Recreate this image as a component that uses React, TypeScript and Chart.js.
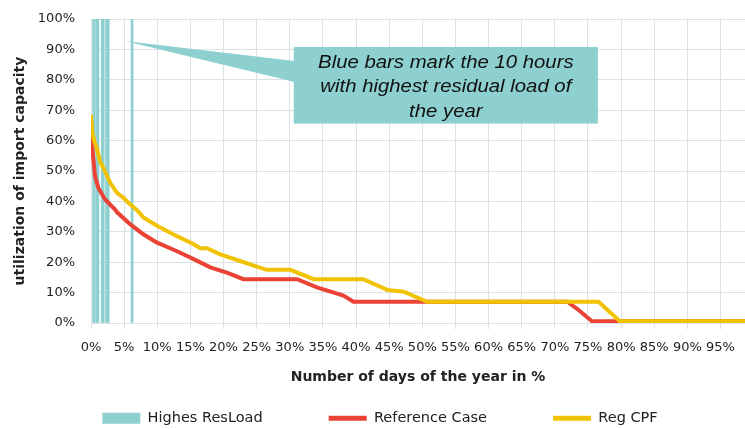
import React, { useEffect, useRef } from 'react';
import { Chart, registerables } from 'chart.js';

Chart.register(...registerables);

// ---- data ----
const seriesNames = ['Highes ResLoad', 'Reference Case', 'Reg CPF'];
const xAxisTitle = 'Number of days of the year in %';
const yAxisTitle = 'utilization of import capacity';
const calloutLines = ['Blue bars mark the 10 hours', 'with highest residual load of', 'the year'];

const xMin = 0;
const xMax = 98.7;
const xStep = 5;
const yMin = 0;
const yMax = 100;
const yStep = 10;

// hours with highest residual load (position in % of year)
const resLoadHours = [0.4, 0.5, 0.9, 1.05, 1.7, 1.85, 2.35, 2.5, 2.6, 6.2];
const resLoadLevel = [100, 100, 100, 100, 100, 100, 100, 100, 100, 100];

const refCaseX = [0, 0.2, 0.6, 1.1, 2.1, 3.6, 3.9, 5.9, 7.9, 9.9, 12.9, 15.5, 18.0, 20.5, 23.0, 31.1, 34.1, 38.1, 39.6, 71.9, 73.4, 75.6, 99];
const refCaseY = [63, 57.6, 48.3, 44.5, 40.7, 37.4, 36.5, 32.5, 29.2, 26.5, 23.7, 21, 18.3, 16.6, 14.4, 14.4, 11.7, 9, 7, 7, 4.6, 0.6, 0.6];

const regCpfX = [0, 0.2, 0.6, 0.86, 1.36, 2.1, 2.9, 3.9, 4.6, 4.9, 5.6, 7.1, 7.9, 9.9, 12.4, 15.5, 16.5, 17.5, 19.5, 22.5, 24, 26.5, 30.1, 33.6, 41.1, 44.7, 47.2, 50.7, 76.6, 79.8, 99];
const regCpfY = [68.5, 62.5, 59, 57.6, 53.2, 49.9, 46.1, 42.9, 41.7, 41.2, 39.6, 36.8, 34.7, 32.1, 29.2, 25.9, 24.6, 24.6, 22.6, 20.4, 19.3, 17.5, 17.5, 14.4, 14.4, 10.9, 10.3, 7.0, 7.0, 0.6, 0.6];

// callout annotation (data units)
const calloutTip = { x: 5.1, y: 92.8 };
const calloutBox = { left: 30.6, right: 76.5, top: 90.8, bottom: 65.6 };
const calloutWedge = { top: 86.2, bottom: 79.3 };

// ---- styles ----
const TEAL = '#8ED0D0';
const RED = '#EA4335';
const YELLOW = '#F0C200';
const GRID = '#dce1e6';
const TEXT = '#222222';
const FONT = 'DejaVu Sans';

const calloutPlugin = {
  id: 'callout',
  afterDatasetsDraw(chart: any) {
    const { ctx } = chart;
    const xs = chart.scales.x;
    const ys = chart.scales.y;
    const tx = xs.getPixelForValue(calloutTip.x);
    const ty = ys.getPixelForValue(calloutTip.y);
    const bl = xs.getPixelForValue(calloutBox.left);
    const br = xs.getPixelForValue(calloutBox.right);
    const bt = ys.getPixelForValue(calloutBox.top);
    const bb = ys.getPixelForValue(calloutBox.bottom);
    const w1 = ys.getPixelForValue(calloutWedge.top);
    const w2 = ys.getPixelForValue(calloutWedge.bottom);
    ctx.save();
    ctx.fillStyle = TEAL;
    ctx.beginPath();
    ctx.moveTo(tx, ty);
    ctx.lineTo(bl + 1, w1);
    ctx.lineTo(bl + 1, w2);
    ctx.closePath();
    ctx.fill();
    ctx.fillRect(bl, bt, br - bl, bb - bt);
    ctx.fillStyle = '#111111';
    ctx.font = 'italic 18px "Liberation Sans", Arial, sans-serif';
    ctx.textAlign = 'center';
    ctx.textBaseline = 'alphabetic';
    const cx = (bl + br) / 2;
    calloutLines.forEach((t, i) => {
      ctx.save();
      ctx.translate(cx, bt + 20.7 + i * 24.8);
      ctx.scale(1.13, 1);
      ctx.fillText(t, 0, 0);
      ctx.restore();
    });
    ctx.restore();
  },
};

export default function App() {
  const ref = useRef<HTMLCanvasElement>(null);

  useEffect(() => {
    const barData = resLoadHours.map((h, i) => ({ x: h, y: resLoadLevel[i] }));
    const refData = refCaseX.map((x, i) => ({ x, y: refCaseY[i] }));
    const cpfData = regCpfX.map((x, i) => ({ x, y: regCpfY[i] }));

    const chart = new Chart(ref.current as HTMLCanvasElement, {
      type: 'line',
      data: {
        datasets: [
          {
            type: 'bar',
            label: seriesNames[0],
            data: barData,
            backgroundColor: TEAL,
            borderWidth: 0,
            barThickness: 2,
            order: 3,
          } as any,
          {
            type: 'line',
            label: seriesNames[1],
            data: refData,
            borderColor: RED,
            backgroundColor: RED,
            borderWidth: 4,
            pointRadius: 0,
            tension: 0,
            fill: false,
            order: 2,
          },
          {
            type: 'line',
            label: seriesNames[2],
            data: cpfData,
            borderColor: YELLOW,
            backgroundColor: YELLOW,
            borderWidth: 4,
            pointRadius: 0,
            tension: 0,
            fill: false,
            order: 1,
          },
        ],
      },
      options: {
        responsive: false,
        animation: false,
        devicePixelRatio: 1,
        layout: { padding: { left: 15, right: 0, top: 19, bottom: -6.5 } },
        scales: {
          x: {
            type: 'linear',
            min: xMin,
            max: xMax,
            offset: false,
            grid: { color: GRID, lineWidth: 1, offset: false, drawTicks: true, tickLength: 6, tickColor: GRID },
            border: { display: true, color: GRID, width: 1 },
            ticks: {
              stepSize: xStep,
              includeBounds: false,
              autoSkip: false,
              maxRotation: 0,
              minRotation: 0,
              padding: 11,
              color: TEXT,
              font: { family: FONT, size: 13 },
              callback: (v: any) => `${v}%`,
            },
            title: {
              display: true,
              text: xAxisTitle,
              color: TEXT,
              font: { family: FONT, size: 14, weight: 'bold' },
              padding: { top: 0, bottom: -41 },
            },
            afterFit: (s: any) => {
              s.height = 22;
              s.paddingLeft = 0;
              s.paddingRight = 0;
              s._computeLabelArea = () => undefined;
            },
          },
          y: {
            type: 'linear',
            min: yMin,
            max: yMax,
            grid: { color: GRID, lineWidth: 1, drawTicks: false },
            border: { display: true, color: GRID, width: 1 },
            ticks: {
              stepSize: yStep,
              padding: 16,
              color: TEXT,
              font: { family: FONT, size: 13 },
              callback: (v: any) => `${v}%`,
            },
            title: {
              display: true,
              text: yAxisTitle,
              color: TEXT,
              font: { family: FONT, size: 14, weight: 'bold' },
              padding: { top: -3.4, bottom: 0 },
            },
            afterFit: (s: any) => {
              s.width = 76;
              s.paddingTop = 0;
              s.paddingBottom = 0;
            },
          },
        },
        plugins: {
          tooltip: { enabled: false },
          legend: {
            display: true,
            position: 'bottom',
            onClick: () => {},
            labels: {
              usePointStyle: true,
              pointStyleWidth: 38,
              boxHeight: 11,
              padding: 66,
              color: TEXT,
              font: { family: FONT, size: 14.5 },
              generateLabels: () => [
                { text: seriesNames[0], fillStyle: TEAL, strokeStyle: TEAL, lineWidth: 0, pointStyle: 'rect', datasetIndex: 0, hidden: false, fontColor: TEXT },
                { text: seriesNames[1], fillStyle: RED, strokeStyle: RED, lineWidth: 5, lineCap: 'butt', pointStyle: 'line', datasetIndex: 1, hidden: false, fontColor: TEXT },
                { text: seriesNames[2], fillStyle: YELLOW, strokeStyle: YELLOW, lineWidth: 5, lineCap: 'butt', pointStyle: 'line', datasetIndex: 2, hidden: false, fontColor: TEXT },
              ] as any,
            },
          },
        },
      } as any,
      plugins: [calloutPlugin],
    });
    return () => chart.destroy();
  }, []);

  return (
    <div style={{ position: 'fixed', left: 0, top: 0, width: 745, height: 429, background: '#ffffff' }}>
      <canvas ref={ref} width={745} height={429} style={{ display: 'block' }} />
    </div>
  );
}
